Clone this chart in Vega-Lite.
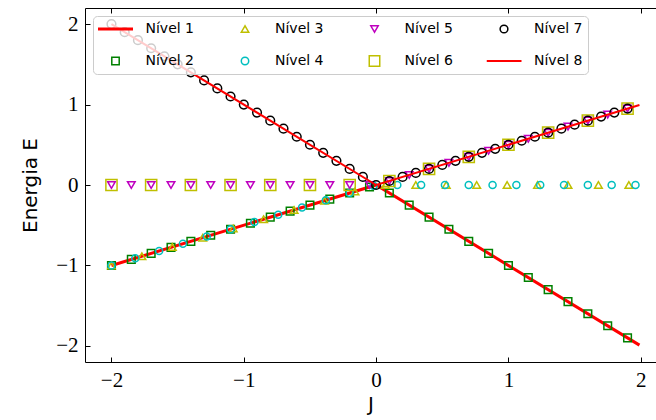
{
  "$schema": "https://vega.github.io/schema/vega-lite/v6.json",
  "width": 571,
  "height": 354,
  "autosize": "none",
  "padding": {"left": 85, "top": 8, "right": 0, "bottom": 58},
  "background": "white",
  "datasets": {
    "lines1": [
      {"J": -2, "E": -1, "nivel": "Nível 1"},
      {"J": 0, "E": 0, "nivel": "Nível 1"},
      {"J": 1.99, "E": -1.99, "nivel": "Nível 1"}
    ],
    "lines8": [
      {"J": -2, "E": 2, "nivel": "Nível 8"},
      {"J": 0, "E": 0, "nivel": "Nível 8"},
      {"J": 1.99, "E": 0.995, "nivel": "Nível 8"}
    ],
    "points": [
      {"J": -2, "E": -1, "nivel": "Nível 2"},
      {"J": -1.85, "E": -0.925, "nivel": "Nível 2"},
      {"J": -1.7, "E": -0.85, "nivel": "Nível 2"},
      {"J": -1.55, "E": -0.775, "nivel": "Nível 2"},
      {"J": -1.4, "E": -0.7, "nivel": "Nível 2"},
      {"J": -1.25, "E": -0.625, "nivel": "Nível 2"},
      {"J": -1.1, "E": -0.55, "nivel": "Nível 2"},
      {"J": -0.95, "E": -0.475, "nivel": "Nível 2"},
      {"J": -0.8, "E": -0.4, "nivel": "Nível 2"},
      {"J": -0.65, "E": -0.325, "nivel": "Nível 2"},
      {"J": -0.5, "E": -0.25, "nivel": "Nível 2"},
      {"J": -0.35, "E": -0.175, "nivel": "Nível 2"},
      {"J": -0.2, "E": -0.1, "nivel": "Nível 2"},
      {"J": -0.05, "E": -0.025, "nivel": "Nível 2"},
      {"J": 0.1, "E": -0.1, "nivel": "Nível 2"},
      {"J": 0.25, "E": -0.25, "nivel": "Nível 2"},
      {"J": 0.4, "E": -0.4, "nivel": "Nível 2"},
      {"J": 0.55, "E": -0.55, "nivel": "Nível 2"},
      {"J": 0.7, "E": -0.7, "nivel": "Nível 2"},
      {"J": 0.85, "E": -0.85, "nivel": "Nível 2"},
      {"J": 1.0, "E": -1.0, "nivel": "Nível 2"},
      {"J": 1.15, "E": -1.15, "nivel": "Nível 2"},
      {"J": 1.3, "E": -1.3, "nivel": "Nível 2"},
      {"J": 1.45, "E": -1.45, "nivel": "Nível 2"},
      {"J": 1.6, "E": -1.6, "nivel": "Nível 2"},
      {"J": 1.75, "E": -1.75, "nivel": "Nível 2"},
      {"J": 1.9, "E": -1.9, "nivel": "Nível 2"},

      {"J": -2, "E": -1, "nivel": "Nível 3"},
      {"J": -1.77, "E": -0.885, "nivel": "Nível 3"},
      {"J": -1.54, "E": -0.77, "nivel": "Nível 3"},
      {"J": -1.31, "E": -0.655, "nivel": "Nível 3"},
      {"J": -1.08, "E": -0.54, "nivel": "Nível 3"},
      {"J": -0.85, "E": -0.425, "nivel": "Nível 3"},
      {"J": -0.62, "E": -0.31, "nivel": "Nível 3"},
      {"J": -0.39, "E": -0.195, "nivel": "Nível 3"},
      {"J": -0.16, "E": -0.08, "nivel": "Nível 3"},
      {"J": 0.07, "E": 0, "nivel": "Nível 3"},
      {"J": 0.3, "E": 0, "nivel": "Nível 3"},
      {"J": 0.53, "E": 0, "nivel": "Nível 3"},
      {"J": 0.76, "E": 0, "nivel": "Nível 3"},
      {"J": 0.99, "E": 0, "nivel": "Nível 3"},
      {"J": 1.22, "E": 0, "nivel": "Nível 3"},
      {"J": 1.45, "E": 0, "nivel": "Nível 3"},
      {"J": 1.68, "E": 0, "nivel": "Nível 3"},
      {"J": 1.91, "E": 0, "nivel": "Nível 3"},

      {"J": -2, "E": -1, "nivel": "Nível 4"},
      {"J": -1.82, "E": -0.91, "nivel": "Nível 4"},
      {"J": -1.64, "E": -0.82, "nivel": "Nível 4"},
      {"J": -1.46, "E": -0.73, "nivel": "Nível 4"},
      {"J": -1.28, "E": -0.64, "nivel": "Nível 4"},
      {"J": -1.1, "E": -0.55, "nivel": "Nível 4"},
      {"J": -0.92, "E": -0.46, "nivel": "Nível 4"},
      {"J": -0.74, "E": -0.37, "nivel": "Nível 4"},
      {"J": -0.56, "E": -0.28, "nivel": "Nível 4"},
      {"J": -0.38, "E": -0.19, "nivel": "Nível 4"},
      {"J": -0.2, "E": -0.1, "nivel": "Nível 4"},
      {"J": -0.02, "E": -0.01, "nivel": "Nível 4"},
      {"J": 0.16, "E": 0, "nivel": "Nível 4"},
      {"J": 0.34, "E": 0, "nivel": "Nível 4"},
      {"J": 0.52, "E": 0, "nivel": "Nível 4"},
      {"J": 0.7, "E": 0, "nivel": "Nível 4"},
      {"J": 0.88, "E": 0, "nivel": "Nível 4"},
      {"J": 1.06, "E": 0, "nivel": "Nível 4"},
      {"J": 1.24, "E": 0, "nivel": "Nível 4"},
      {"J": 1.42, "E": 0, "nivel": "Nível 4"},
      {"J": 1.6, "E": 0, "nivel": "Nível 4"},
      {"J": 1.78, "E": 0, "nivel": "Nível 4"},
      {"J": 1.96, "E": 0, "nivel": "Nível 4"},

      {"J": -2, "E": 0, "nivel": "Nível 5"},
      {"J": -1.85, "E": 0, "nivel": "Nível 5"},
      {"J": -1.7, "E": 0, "nivel": "Nível 5"},
      {"J": -1.55, "E": 0, "nivel": "Nível 5"},
      {"J": -1.4, "E": 0, "nivel": "Nível 5"},
      {"J": -1.25, "E": 0, "nivel": "Nível 5"},
      {"J": -1.1, "E": 0, "nivel": "Nível 5"},
      {"J": -0.95, "E": 0, "nivel": "Nível 5"},
      {"J": -0.8, "E": 0, "nivel": "Nível 5"},
      {"J": -0.65, "E": 0, "nivel": "Nível 5"},
      {"J": -0.5, "E": 0, "nivel": "Nível 5"},
      {"J": -0.35, "E": 0, "nivel": "Nível 5"},
      {"J": -0.2, "E": 0, "nivel": "Nível 5"},
      {"J": -0.05, "E": 0, "nivel": "Nível 5"},
      {"J": 0.1, "E": 0.05, "nivel": "Nível 5"},
      {"J": 0.25, "E": 0.125, "nivel": "Nível 5"},
      {"J": 0.4, "E": 0.2, "nivel": "Nível 5"},
      {"J": 0.55, "E": 0.275, "nivel": "Nível 5"},
      {"J": 0.7, "E": 0.35, "nivel": "Nível 5"},
      {"J": 0.85, "E": 0.425, "nivel": "Nível 5"},
      {"J": 1.0, "E": 0.5, "nivel": "Nível 5"},
      {"J": 1.15, "E": 0.575, "nivel": "Nível 5"},
      {"J": 1.3, "E": 0.65, "nivel": "Nível 5"},
      {"J": 1.45, "E": 0.725, "nivel": "Nível 5"},
      {"J": 1.6, "E": 0.8, "nivel": "Nível 5"},
      {"J": 1.75, "E": 0.875, "nivel": "Nível 5"},
      {"J": 1.9, "E": 0.95, "nivel": "Nível 5"},

      {"J": -2, "E": 0, "nivel": "Nível 6"},
      {"J": -1.7, "E": 0, "nivel": "Nível 6"},
      {"J": -1.4, "E": 0, "nivel": "Nível 6"},
      {"J": -1.1, "E": 0, "nivel": "Nível 6"},
      {"J": -0.8, "E": 0, "nivel": "Nível 6"},
      {"J": -0.5, "E": 0, "nivel": "Nível 6"},
      {"J": -0.2, "E": 0, "nivel": "Nível 6"},
      {"J": 0.1, "E": 0.05, "nivel": "Nível 6"},
      {"J": 0.4, "E": 0.2, "nivel": "Nível 6"},
      {"J": 0.7, "E": 0.35, "nivel": "Nível 6"},
      {"J": 1.0, "E": 0.5, "nivel": "Nível 6"},
      {"J": 1.3, "E": 0.65, "nivel": "Nível 6"},
      {"J": 1.6, "E": 0.8, "nivel": "Nível 6"},
      {"J": 1.9, "E": 0.95, "nivel": "Nível 6"},

      {"J": -2, "E": 2, "nivel": "Nível 7"},
      {"J": -1.9, "E": 1.9, "nivel": "Nível 7"},
      {"J": -1.8, "E": 1.8, "nivel": "Nível 7"},
      {"J": -1.7, "E": 1.7, "nivel": "Nível 7"},
      {"J": -1.6, "E": 1.6, "nivel": "Nível 7"},
      {"J": -1.5, "E": 1.5, "nivel": "Nível 7"},
      {"J": -1.4, "E": 1.4, "nivel": "Nível 7"},
      {"J": -1.3, "E": 1.3, "nivel": "Nível 7"},
      {"J": -1.2, "E": 1.2, "nivel": "Nível 7"},
      {"J": -1.1, "E": 1.1, "nivel": "Nível 7"},
      {"J": -1.0, "E": 1.0, "nivel": "Nível 7"},
      {"J": -0.9, "E": 0.9, "nivel": "Nível 7"},
      {"J": -0.8, "E": 0.8, "nivel": "Nível 7"},
      {"J": -0.7, "E": 0.7, "nivel": "Nível 7"},
      {"J": -0.6, "E": 0.6, "nivel": "Nível 7"},
      {"J": -0.5, "E": 0.5, "nivel": "Nível 7"},
      {"J": -0.4, "E": 0.4, "nivel": "Nível 7"},
      {"J": -0.3, "E": 0.3, "nivel": "Nível 7"},
      {"J": -0.2, "E": 0.2, "nivel": "Nível 7"},
      {"J": -0.1, "E": 0.1, "nivel": "Nível 7"},
      {"J": 0, "E": 0, "nivel": "Nível 7"},
      {"J": 0.1, "E": 0.05, "nivel": "Nível 7"},
      {"J": 0.2, "E": 0.1, "nivel": "Nível 7"},
      {"J": 0.3, "E": 0.15, "nivel": "Nível 7"},
      {"J": 0.4, "E": 0.2, "nivel": "Nível 7"},
      {"J": 0.5, "E": 0.25, "nivel": "Nível 7"},
      {"J": 0.6, "E": 0.3, "nivel": "Nível 7"},
      {"J": 0.7, "E": 0.35, "nivel": "Nível 7"},
      {"J": 0.8, "E": 0.4, "nivel": "Nível 7"},
      {"J": 0.9, "E": 0.45, "nivel": "Nível 7"},
      {"J": 1.0, "E": 0.5, "nivel": "Nível 7"},
      {"J": 1.1, "E": 0.55, "nivel": "Nível 7"},
      {"J": 1.2, "E": 0.6, "nivel": "Nível 7"},
      {"J": 1.3, "E": 0.65, "nivel": "Nível 7"},
      {"J": 1.4, "E": 0.7, "nivel": "Nível 7"},
      {"J": 1.5, "E": 0.75, "nivel": "Nível 7"},
      {"J": 1.6, "E": 0.8, "nivel": "Nível 7"},
      {"J": 1.7, "E": 0.85, "nivel": "Nível 7"},
      {"J": 1.8, "E": 0.9, "nivel": "Nível 7"},
      {"J": 1.9, "E": 0.95, "nivel": "Nível 7"}
    ]
  },
  "layer": [
    {
      "data": {"name": "lines1"},
      "mark": {"type": "line", "clip": true, "strokeWidth": 3},
      "encoding": {
        "x": {"field": "J", "type": "quantitative", "scale": {"domain": [-2.2, 2.115], "nice": false, "zero": false},
              "axis": {"orient": "bottom", "values": [-2, -1, 0, 1, 2], "format": "d", "title": "J"}},
        "y": {"field": "E", "type": "quantitative", "scale": {"domain": [-2.2, 2.2], "nice": false, "zero": false},
              "axis": {"orient": "left", "values": [-2, -1, 0, 1, 2], "format": "d", "title": "Energia E"}},
        "color": {"field": "nivel", "type": "nominal",
                  "scale": {"domain": ["Nível 1", "Nível 3", "Nível 5", "Nível 7", "Nível 2", "Nível 4", "Nível 6", "Nível 8"],
                            "range": ["#ff0000", "#bfbf00", "#bf00bf", "#000000", "#008000", "#00bfbf", "#bfbf00", "#ff0000"]},
                  "legend": {"title": null,
                             "encode": {"symbols": {"update": {
                               "size": {"signal": "datum.value === 'Nível 1' || datum.value === 'Nível 8' ? 64 : datum.value === 'Nível 6' ? 110 : datum.value === 'Nível 7' ? 60 : 55"},
                               "strokeWidth": {"signal": "datum.value === 'Nível 1' ? 3 : datum.value === 'Nível 8' ? 2 : 1.5"}
                             }}}}}
      }
    },
    {
      "data": {"name": "points"},
      "mark": {"type": "point", "filled": false, "opacity": 1, "strokeWidth": 1.5,
               "size": {"expr": "datum.nivel === 'Nível 6' ? 125 : datum.nivel === 'Nível 7' ? 75 : datum.nivel === 'Nível 4' ? 50 : 58"}},
      "encoding": {
        "x": {"field": "J", "type": "quantitative",
              "axis": {"orient": "top", "values": [-2, -1, 0, 1, 2], "labels": false, "title": null}},
        "y": {"field": "E", "type": "quantitative"},
        "color": {"field": "nivel", "type": "nominal",
                  "legend": {"title": null,
                             "encode": {"symbols": {"update": {
                               "size": {"signal": "datum.value === 'Nível 1' || datum.value === 'Nível 8' ? 64 : datum.value === 'Nível 6' ? 110 : datum.value === 'Nível 7' ? 60 : 55"},
                               "strokeWidth": {"signal": "datum.value === 'Nível 1' ? 3 : datum.value === 'Nível 8' ? 2 : 1.5"}
                             }}}}},
        "shape": {"field": "nivel", "type": "nominal",
                  "scale": {"domain": ["Nível 1", "Nível 3", "Nível 5", "Nível 7", "Nível 2", "Nível 4", "Nível 6", "Nível 8"],
                            "range": ["M-4.375,0H4.375", "triangle-up", "triangle-down", "circle", "square", "circle", "square", "M-4.375,0H4.375"]},
                  "legend": {"title": null,
                             "encode": {"symbols": {"update": {
                               "size": {"signal": "datum.value === 'Nível 1' || datum.value === 'Nível 8' ? 64 : datum.value === 'Nível 6' ? 110 : datum.value === 'Nível 7' ? 60 : 55"},
                               "strokeWidth": {"signal": "datum.value === 'Nível 1' ? 3 : datum.value === 'Nível 8' ? 2 : 1.5"}
                             }}}}}
      }
    },
    {
      "data": {"name": "lines8"},
      "mark": {"type": "line", "clip": true, "strokeWidth": 2},
      "encoding": {
        "x": {"field": "J", "type": "quantitative", "axis": null},
        "y": {"field": "E", "type": "quantitative"},
        "color": {"field": "nivel", "type": "nominal",
                  "legend": {"title": null,
                             "encode": {"symbols": {"update": {
                               "size": {"signal": "datum.value === 'Nível 1' || datum.value === 'Nível 8' ? 64 : datum.value === 'Nível 6' ? 110 : datum.value === 'Nível 7' ? 60 : 55"},
                               "strokeWidth": {"signal": "datum.value === 'Nível 1' ? 3 : datum.value === 'Nível 8' ? 2 : 1.5"}
                             }}}}}
      }
    }
  ],
  "resolve": {"axis": {"x": "independent"}},
  "config": {
    "view": {"stroke": null},
    "axis": {
      "grid": false,
      "domainColor": "#000000",
      "domainWidth": 1,
      "tickColor": "#000000",
      "tickWidth": 1,
      "tickSize": -5,
      "labelFont": "Liberation Serif",
      "labelFontSize": 21,
      "labelColor": "#000000",
      "labelPadding": 12,
      "titleFont": "DejaVu Sans",
      "titleFontSize": 20,
      "titleFontWeight": "normal",
      "titleColor": "#000000"
    },
    "axisX": {"titlePadding": 4},
    "axisY": {"titlePadding": 15},
    "legend": {
      "orient": "none",
      "legendX": 8,
      "legendY": 8,
      "direction": "horizontal",
      "columns": 4,
      "gridAlign": "all",
      "fillColor": "rgba(255,255,255,0.8)",
      "strokeColor": "#cccccc",
      "cornerRadius": 4,
      "padding": 5,
      "symbolSize": 64,
      "symbolOffset": 10.5,
      "clipHeight": 16,
      "labelFont": "DejaVu Sans",
      "labelFontSize": 14,
      "labelColor": "#000000",
      "labelOffset": 23,
      "columnPadding": 32.5,
      "rowPadding": 16,
      "symbolOpacity": 1
    }
  }
}
